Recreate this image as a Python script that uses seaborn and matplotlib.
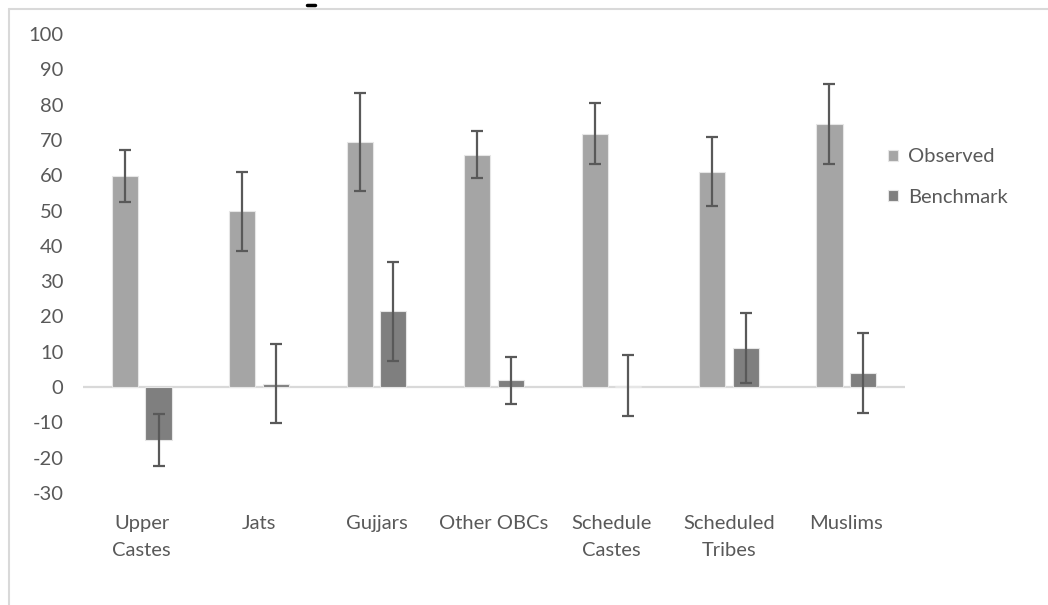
import numpy as np
import pandas as pd
import matplotlib
matplotlib.use("Agg")
import matplotlib.pyplot as plt
from matplotlib.lines import Line2D
import seaborn as sns

categories = ["Upper\nCastes", "Jats", "Gujjars", "Other OBCs",
              "Schedule\nCastes", "Scheduled\nTribes", "Muslims"]
observed = [59.8, 49.8, 69.4, 65.8, 71.8, 61.0, 74.6]
observed_err = [7.4, 11.2, 14.0, 6.7, 8.6, 9.8, 11.3]
benchmark = [-15.0, 0.9, 21.5, 1.9, 0.4, 11.0, 3.9]
benchmark_err = [7.4, 11.2, 14.0, 6.7, 8.7, 9.9, 11.3]
series = ["Observed", "Benchmark"]
colors = ["#A5A5A5", "#7F7F7F"]

TEXT = "#595959"
LINE = "#D9D9D9"

df = pd.DataFrame({
    "group": categories * 2,
    "series": [series[0]] * len(categories) + [series[1]] * len(categories),
    "value": observed + benchmark,
    "err": observed_err + benchmark_err,
})

sns.set_style("white")
plt.rcParams["font.family"] = ["Lato", "DejaVu Sans"]
plt.rcParams["axes.unicode_minus"] = False

fig = plt.figure(figsize=(10.48, 6.05), dpi=100)
ax = fig.add_axes([83 / 1048, 1 - 493 / 605, 822 / 1048, 459 / 605])

sns.barplot(data=df, x="group", y="value", hue="series", palette=colors,
            width=0.572, gap=0.224, errorbar=None, ax=ax,
            edgecolor="#E6E6E6", linewidth=0.8, zorder=2)

# error bars at the bar centres
for container, s in zip(ax.containers, series):
    sub = df[df["series"] == s]
    xs = [p.get_x() + p.get_width() / 2 for p in container]
    ax.errorbar(xs, sub["value"], yerr=sub["err"], fmt="none",
                ecolor=TEXT, elinewidth=1.6, capsize=4.3, capthick=1.6, zorder=3)

ax.axhline(0, color=LINE, lw=1.6, zorder=1)
ax.set_ylim(-30, 100)
ax.set_xlim(-0.5, 6.5)
ax.set_yticks(range(-30, 101, 10))
ax.set_xlabel("")
ax.set_ylabel("")
for sp in ax.spines.values():
    sp.set_visible(False)
ax.tick_params(axis="y", length=0, pad=14, labelsize=14.5, labelcolor=TEXT)
ax.tick_params(axis="x", length=0, pad=16, labelsize=14.5, labelcolor=TEXT)
for lbl in ax.get_xticklabels():
    lbl.set_linespacing(1.7)

handles, labels = ax.get_legend_handles_labels()
ax.get_legend().remove()
fig.legend(handles, labels, loc="center left",
           bbox_to_anchor=(870 / 1048, 1 - 177 / 605), frameon=False,
           fontsize=14.5, labelcolor=TEXT, handlelength=0.5, handleheight=0.5,
           handletextpad=0.5, labelspacing=1.15)

# outer chart frame (cropped at right and bottom)
fig.add_artist(Line2D([9 / 1048, 1], [1 - 9 / 605, 1 - 9 / 605],
                      transform=fig.transFigure, color=LINE, lw=1.5))
fig.add_artist(Line2D([9 / 1048, 9 / 1048], [0, 1 - 9 / 605],
                      transform=fig.transFigure, color=LINE, lw=1.5))
# leftover stroke of a cropped title
fig.add_artist(Line2D([307 / 1048, 315 / 1048], [1 - 5 / 605, 1 - 5 / 605],
                      transform=fig.transFigure, color="black", lw=2.5))

fig.savefig("out.png", dpi=100, facecolor="white")
